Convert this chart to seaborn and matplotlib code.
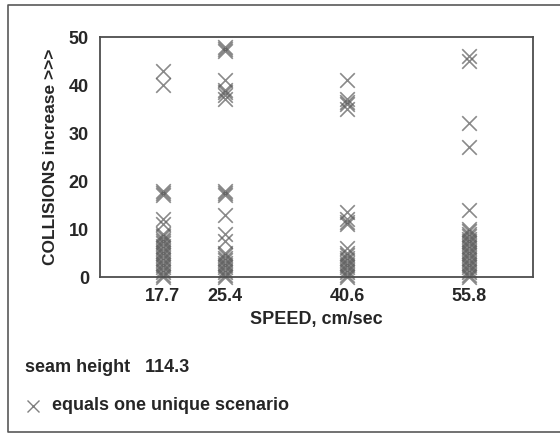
import pandas as pd
import seaborn as sns
import matplotlib.pyplot as plt

# -----------------------------
# Data (one row per unique scenario)
# -----------------------------
speed_ticks = [17.7, 25.4, 40.6, 55.8]
tick_labels = ['17.7', '25.4', '40.6', '55.8']

coll_17_7 = [43, 40, 18, 17.5, 17, 12, 11, 9, 8.5, 8, 7.5, 7, 6.5, 6, 5.5, 5, 4.5, 4, 3.5, 3,
             2.5, 2, 1.5, 1, 0.5, 0]
coll_25_4 = [48, 47.5, 47, 41, 39, 38.5, 38, 37, 18, 17.5, 17, 13, 9, 7.5, 5, 4.5, 4, 3.5, 3,
             2.5, 2, 1.5, 1, 0.5, 0]
coll_40_6 = [41, 37, 36.5, 36, 35, 13.5, 12, 11.5, 11, 6, 5, 4.5, 4, 3.5, 3, 2.5, 2, 1.5, 1,
             0.5, 0]
coll_55_8 = [46, 45, 32, 27, 14, 10, 9.5, 9, 8.5, 8, 7.5, 7, 6.5, 6, 5.5, 5, 4.5, 4, 3.5, 3,
             2.5, 2, 1.5, 1, 0.5, 0]

seam_height = '114.3'

rows = []
for sp, vals in zip(speed_ticks, [coll_17_7, coll_25_4, coll_40_6, coll_55_8]):
    for v in vals:
        rows.append({'speed': sp, 'collisions': v})
df = pd.DataFrame(rows)

# -----------------------------
# Plot
# -----------------------------
sns.set_style('white')
plt.rcParams['font.family'] = ['Liberation Sans', 'DejaVu Sans']

fig = plt.figure(figsize=(5.6, 4.33), dpi=100)
ax = fig.add_axes([100 / 560, 1 - 277 / 433, 433 / 560, 240 / 433])

sns.scatterplot(data=df, x='speed', y='collisions', marker='x', color='0.35',
                s=110, linewidth=1.2, alpha=0.7, clip_on=False, ax=ax)

ax.set_xlim(9.9, 63.7)
ax.set_ylim(0, 50)
ax.set_xticks(speed_ticks)
ax.set_xticklabels(tick_labels)
ax.set_yticks([0, 10, 20, 30, 40, 50])
ax.tick_params(length=0, labelsize=13, pad=8)
for lab in ax.get_xticklabels() + ax.get_yticklabels():
    lab.set_fontweight('bold')

ax.set_xlabel('SPEED, cm/sec', fontsize=13, fontweight='bold', labelpad=4)
ax.set_ylabel('COLLISIONS increase >>>', fontsize=12.5, fontweight='bold', labelpad=8)

for sp in ax.spines.values():
    sp.set_color('0.3')
    sp.set_linewidth(1.3)

# notes below the chart
fig.text(25 / 560, 1 - 367 / 433, 'seam height   ' + seam_height, fontsize=13,
         fontweight='bold', va='center', ha='left')
fig.text(52 / 560, 1 - 406 / 433, 'equals one unique scenario', fontsize=13,
         fontweight='bold', va='center', ha='left')
fig.add_artist(plt.Line2D([33 / 560], [1 - 406 / 433], marker='x', color='0.5',
                          markersize=9, markeredgewidth=1, linestyle='none'))

# outer frame: left, top and bottom only (right edge runs off the page)
x0, y_top, y_bot = 8 / 560, 1 - 5 / 433, 1 - 432 / 433
fig.add_artist(plt.Line2D([1.0, x0, x0, 1.0], [y_top, y_top, y_bot, y_bot],
                          color='0.35', linewidth=1.2))

plt.savefig('out.png', dpi=100)
